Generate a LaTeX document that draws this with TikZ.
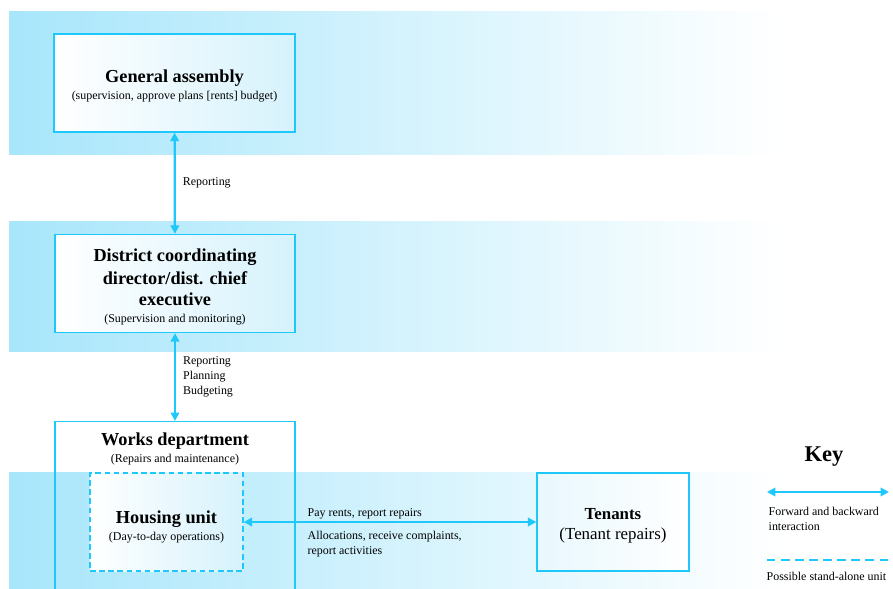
\documentclass[tikz,border=0pt]{standalone}
\usepackage{fontspec}
\setmainfont{Liberation Serif}
\usetikzlibrary{positioning, arrows.meta}

\definecolor{unitcyan}{RGB}{30,200,250}
\definecolor{bandcyan}{RGB}{168,230,251}
\definecolor{boxcyan}{RGB}{214,242,252}
\newcommand{\ttlfont}{\bfseries\fontsize{13}{15.5}\selectfont}
\newcommand{\subfont}{\mdseries\fontsize{8.5}{12}\selectfont}

\begin{document}
\begin{tikzpicture}[x=0.025cm, y=-0.025cm,
    band/.style={left color=bandcyan, right color=white},
    unitbox/.style={draw=unitcyan, line width=0.9pt, left color=white, right color=boxcyan,
        align=center, inner sep=0pt, minimum height=2.45cm},
    lbl/.style={font=\fontsize{8.5}{10.6}\selectfont, align=left, inner sep=1pt},
    conn/.style={{Triangle[length=6pt,width=6pt]}-{Triangle[length=6pt,width=6pt]}, draw=unitcyan, line width=1.6pt},
    solo/.style={dash pattern=on 4pt off 2.5pt}
]
    % Frame of the picture
    \clip (0,0) rectangle (893,589);

    % Background bands
    \shade[band] (9,12) rectangle (781,155);
    \shade[band] (9,222) rectangle (781,352);
    \shade[band] (9,472) rectangle (781,600);

    % Units
    \node[unitbox, minimum width=6.025cm] (assembly) at (174.5,83)
        {\ttlfont\rule{0pt}{13pt}General assembly\\\subfont (supervision, approve plans {[rents]} budget)};
    \node[unitbox, minimum width=6cm] (director) at (175,283.5)
        {\ttlfont\rule{0pt}{14pt}District coordinating\\[3.3pt]\ttlfont director/dist. chief\\[3.3pt]\ttlfont executive\\\subfont (Supervision and monitoring)};
    \node[draw=unitcyan, line width=0.9pt, minimum width=6cm, minimum height=5cm,
        anchor=north, inner sep=0pt] (works) at (175,421) {};
    \node[below=0.3cm of works.north, align=center, inner sep=0pt] (workstitle)
        {\ttlfont Works department\\\subfont (Repairs and maintenance)};
    \node[unitbox, solo, minimum width=3.825cm] (housing) at (166.5,522)
        {\ttlfont\rule{0pt}{16pt}Housing unit\\\subfont (Day-to-day operations)};
    \node[unitbox, left color=boxcyan!55, right color=white, minimum width=3.8cm,
        font=\fontsize{12}{14}\selectfont] (tenants) at (613,522)
        {\rule{0pt}{13.5pt}\textbf{Tenants}\\(Tenant repairs)};

    % Interactions
    \draw[conn] (assembly) -- node[lbl, right=4pt] (rep) {Reporting} (director);
    \draw[conn] (director) -- node[lbl, right=4pt] (plan) {Reporting\\Planning\\Budgeting} (works);
    \draw[conn] (housing) --
        node[lbl, pos=0.21, anchor=south west] (pay) {Pay rents, report repairs}
        node[lbl, pos=0.21, anchor=north west, yshift=-4.5pt] (alloc) {Allocations, receive complaints,\\report activities}
        (tenants);

    % Key
    \node[font=\bfseries\fontsize{16}{19}\selectfont] (key) at (824,457) {Key};
    \coordinate (fwdL) at (767,492);
    \coordinate (fwdR) at (889,492);
    \draw[conn] (fwdL) -- (fwdR);
    \node[lbl, anchor=north west] (fwdtxt) at (767,506) {Forward and backward\\interaction};
    \coordinate (soloL) at (767,560);
    \coordinate (soloR) at (893,560);
    \draw[unitcyan, line width=1.4pt, dash pattern=on 6pt off 4pt] (soloL) -- (soloR);
    \node[lbl, anchor=west] (solotxt) at (765,576) {Possible stand-alone unit};
\end{tikzpicture}
\end{document}
